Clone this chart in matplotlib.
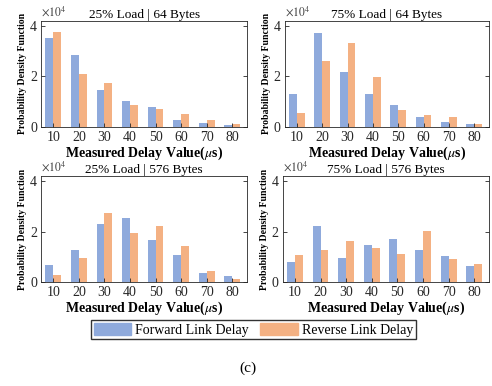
import numpy as np
import matplotlib
matplotlib.use('Agg')
import matplotlib.pyplot as plt
from matplotlib.patches import Patch

plt.rcParams['font.family'] = ['Liberation Serif', 'DejaVu Serif']
plt.rcParams['mathtext.fontset'] = 'stix'

delays = [10, 20, 30, 40, 50, 60, 70, 80]
titles = ['25% Load | 64 Bytes', '75% Load | 64 Bytes',
          '25% Load | 576 Bytes', '75% Load | 576 Bytes']

# values in units of 1e4
fwd_25_64 = [3.51, 2.83, 1.47, 1.01, 0.78, 0.29, 0.16, 0.08]
rev_25_64 = [3.75, 2.10, 1.75, 0.88, 0.72, 0.51, 0.29, 0.13]
fwd_75_64 = [1.32, 3.72, 2.18, 1.32, 0.88, 0.39, 0.21, 0.13]
rev_75_64 = [0.57, 2.60, 3.34, 1.97, 0.68, 0.49, 0.38, 0.13]
fwd_25_576 = [0.68, 1.26, 2.32, 2.54, 1.68, 1.08, 0.36, 0.24]
rev_25_576 = [0.28, 0.97, 2.74, 1.95, 2.21, 1.42, 0.45, 0.13]
fwd_75_576 = [0.79, 2.22, 0.97, 1.47, 1.71, 1.28, 1.05, 0.63]
rev_75_576 = [1.08, 1.28, 1.63, 1.37, 1.12, 2.03, 0.93, 0.71]

forward = [fwd_25_64, fwd_75_64, fwd_25_576, fwd_75_576]
reverse = [rev_25_64, rev_75_64, rev_25_576, rev_75_576]

blue = '#8faadc'
orange = '#f4b183'

fig = plt.figure(figsize=(4.92, 3.86), dpi=100)
positions = [[0.084, 0.671, 0.418, 0.275],
             [0.579, 0.671, 0.415, 0.275],
             [0.084, 0.269, 0.418, 0.275],
             [0.575, 0.269, 0.419, 0.275]]

x = np.array(delays)
w = 3.1
for i in range(4):
    ax = fig.add_axes(positions[i])
    ax.bar(x - w / 2, np.array(forward[i]) * 1e4, w, color=blue)
    ax.bar(x + w / 2, np.array(reverse[i]) * 1e4, w, color=orange)
    ax.set_xlim(5.3, 85.8)
    ax.set_ylim(0, 4.2e4)
    ax.set_xticks(delays)
    ax.set_yticks([0, 2e4, 4e4])
    ax.set_yticklabels(['0', '2', '4'])
    ax.tick_params(direction='in', length=3, width=0.6, labelsize=10,
                   right=True, top=False, colors='#262626', pad=3)
    for s in ax.spines.values():
        s.set_linewidth(0.6)
        s.set_color('#262626')
    ax.set_title(titles[i], fontsize=9.5, pad=2)
    ax.text(0.0, 1.02, r'$\times10^4$', transform=ax.transAxes,
            fontsize=8.5, color='#404040', ha='left', va='bottom')
    ax.set_xlabel(r'Measured Delay Value($\mu$s)', fontsize=10,
                  fontweight='bold', labelpad=0)
    ax.set_ylabel('Probability Density Function', fontsize=7,
                  fontweight='bold', labelpad=2)

handles = [Patch(color=blue, label='Forward Link Delay'),
           Patch(color=orange, label='Reverse Link Delay')]
fig.legend(handles=handles, loc='center', bbox_to_anchor=(0.515, 0.146),
           ncol=2, fontsize=10, frameon=True, fancybox=False,
           edgecolor='black', handlelength=2.7, handleheight=1.0,
           borderpad=0.2, columnspacing=0.8, handletextpad=0.3)
fig.text(0.504, 0.047, '(c)', ha='center', va='center', fontsize=11)

fig.savefig('out.png', dpi=100)
